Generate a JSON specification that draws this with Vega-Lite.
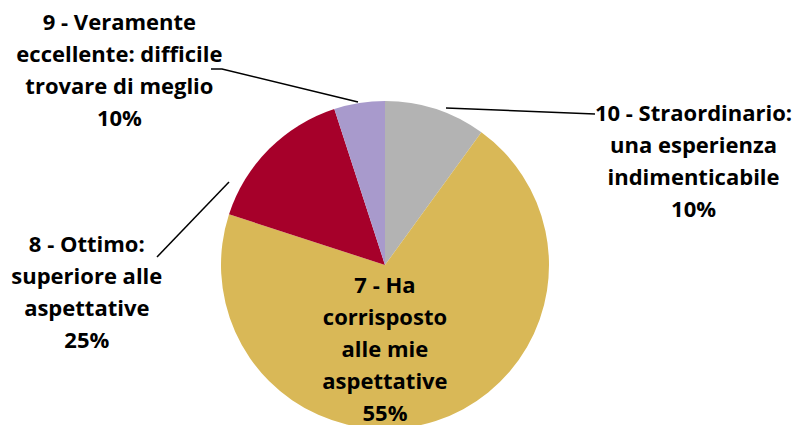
{
  "$schema": "https://vega.github.io/schema/vega-lite/v6.json",
  "width": 801,
  "height": 425,
  "padding": 0,
  "autosize": "none",
  "config": {"view": {"stroke": null}},
  "data": {
    "values": [
      {"ord": 1, "cat": "10", "value": 10, "label": "10 - Straordinario:\nuna esperienza\nindimenticabile\n10%"},
      {"ord": 2, "cat": "7", "value": 70, "label": "7 - Ha\ncorrisposto\nalle mie\naspettative\n55%"},
      {"ord": 3, "cat": "8", "value": 15, "label": "8 - Ottimo:\nsuperiore alle\naspettative\n25%"},
      {"ord": 4, "cat": "9", "value": 5, "label": "9 - Veramente\neccellente: difficile\ntrovare di meglio\n10%"}
    ]
  },
  "layer": [
    {
      "mark": {"type": "arc", "outerRadius": 164},
      "encoding": {
        "x": {"datum": 0, "type": "quantitative", "scale": {"domain": [-385, 416], "nice": false, "zero": false}, "axis": null},
        "y": {"datum": 0, "type": "quantitative", "scale": {"domain": [-160, 265], "nice": false, "zero": false}, "axis": null},
        "theta": {"field": "value", "type": "quantitative", "stack": true},
        "order": {"field": "ord"},
        "color": {"field": "cat", "type": "nominal", "legend": null,
          "scale": {"domain": ["10", "7", "8", "9"], "range": ["#B3B3B3", "#D9B857", "#A6002A", "#A89ACC"]}}
      }
    },
    {
      "data": {
        "values": [
          {"grp": "9", "seq": 1, "lx": -174, "ly": 196},
          {"grp": "9", "seq": 2, "lx": -163, "ly": 196},
          {"grp": "9", "seq": 3, "lx": -27, "ly": 163},
          {"grp": "10", "seq": 1, "lx": 61, "ly": 157},
          {"grp": "10", "seq": 2, "lx": 210, "ly": 151},
          {"grp": "8", "seq": 1, "lx": -156, "ly": 83},
          {"grp": "8", "seq": 2, "lx": -228, "ly": 8}
        ]
      },
      "mark": {"type": "line", "color": "black", "strokeWidth": 1.5},
      "encoding": {
        "x": {"field": "lx", "type": "quantitative", "scale": {"domain": [-385, 416], "nice": false, "zero": false}, "axis": null},
        "y": {"field": "ly", "type": "quantitative", "scale": {"domain": [-160, 265], "nice": false, "zero": false}, "axis": null},
        "detail": {"field": "grp"},
        "order": {"field": "seq"}
      }
    },
    {
      "mark": {"type": "text", "radius": 170, "dx": 256, "dy": 18, "align": "center", "baseline": "alphabetic", "font": "Open Sans", "fontWeight": "bold", "fontSize": 22, "lineHeight": 32, "lineBreak": "\n", "color": "black"},
      "encoding": {
        "x": {"datum": 0, "type": "quantitative", "scale": {"domain": [-385, 416], "nice": false, "zero": false}, "axis": null},
        "y": {"datum": 0, "type": "quantitative", "scale": {"domain": [-160, 265], "nice": false, "zero": false}, "axis": null},
        "theta": {"field": "value", "type": "quantitative", "stack": true},
        "order": {"field": "ord"},
        "text": {"condition": {"test": "datum.ord === 1", "field": "label"}, "value": ""}
      }
    },
    {
      "mark": {"type": "text", "radius": 29, "dx": -9, "dy": 0, "align": "center", "baseline": "alphabetic", "font": "Open Sans", "fontWeight": "bold", "fontSize": 22, "lineHeight": 32, "lineBreak": "\n", "color": "black"},
      "encoding": {
        "x": {"datum": 0, "type": "quantitative", "scale": {"domain": [-385, 416], "nice": false, "zero": false}, "axis": null},
        "y": {"datum": 0, "type": "quantitative", "scale": {"domain": [-160, 265], "nice": false, "zero": false}, "axis": null},
        "theta": {"field": "value", "type": "quantitative", "stack": true},
        "order": {"field": "ord"},
        "text": {"condition": {"test": "datum.ord === 2", "field": "label"}, "value": ""}
      }
    },
    {
      "mark": {"type": "text", "radius": 170, "dx": -178, "dy": 107, "align": "center", "baseline": "alphabetic", "font": "Open Sans", "fontWeight": "bold", "fontSize": 22, "lineHeight": 32, "lineBreak": "\n", "color": "black"},
      "encoding": {
        "x": {"datum": 0, "type": "quantitative", "scale": {"domain": [-385, 416], "nice": false, "zero": false}, "axis": null},
        "y": {"datum": 0, "type": "quantitative", "scale": {"domain": [-160, 265], "nice": false, "zero": false}, "axis": null},
        "theta": {"field": "value", "type": "quantitative", "stack": true},
        "order": {"field": "ord"},
        "text": {"condition": {"test": "datum.ord === 3", "field": "label"}, "value": ""}
      }
    },
    {
      "mark": {"type": "text", "radius": 170, "dx": -239, "dy": -67, "align": "center", "baseline": "alphabetic", "font": "Open Sans", "fontWeight": "bold", "fontSize": 22, "lineHeight": 32, "lineBreak": "\n", "color": "black"},
      "encoding": {
        "x": {"datum": 0, "type": "quantitative", "scale": {"domain": [-385, 416], "nice": false, "zero": false}, "axis": null},
        "y": {"datum": 0, "type": "quantitative", "scale": {"domain": [-160, 265], "nice": false, "zero": false}, "axis": null},
        "theta": {"field": "value", "type": "quantitative", "stack": true},
        "order": {"field": "ord"},
        "text": {"condition": {"test": "datum.ord === 4", "field": "label"}, "value": ""}
      }
    }
  ]
}
